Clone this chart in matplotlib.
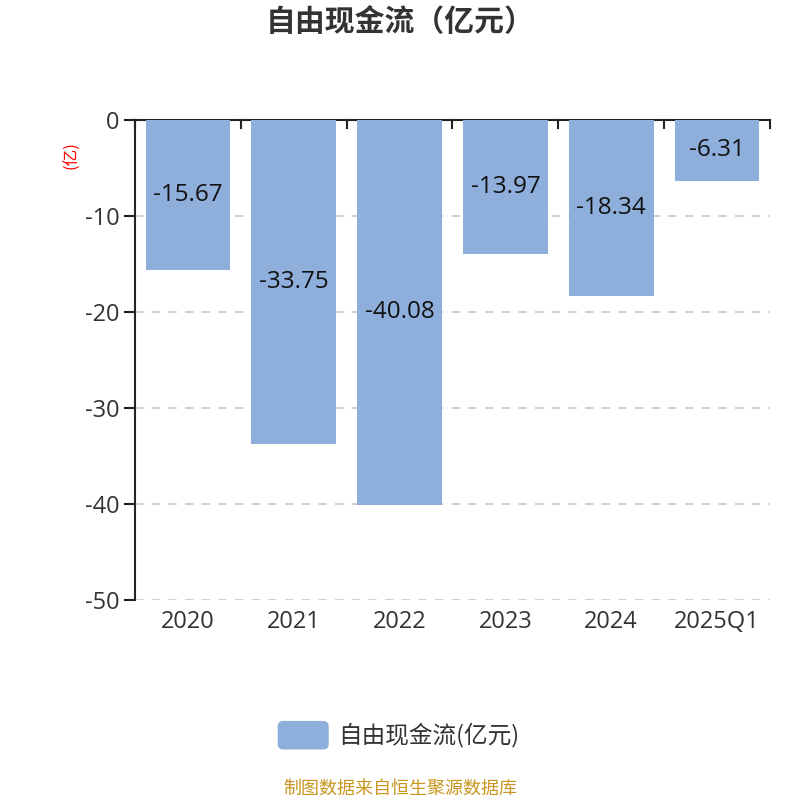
import matplotlib
matplotlib.use("Agg")
import matplotlib.pyplot as plt
from matplotlib.patches import FancyBboxPatch
import numpy as np

plt.rcParams['font.family'] = ['Open Sans', 'Noto Sans CJK SC', 'DejaVu Sans']
cjk = ['Noto Sans CJK SC', 'DejaVu Sans']

categories = ['2020', '2021', '2022', '2023', '2024', '2025Q1']
values = [-15.67, -33.75, -40.08, -13.97, -18.34, -6.31]
yticks = [0, -10, -20, -30, -40, -50]

bar_color = '#8eaedb'
text_color = '#333333'

fig = plt.figure(figsize=(8, 8), dpi=100)
ax = fig.add_axes([0.16875, 0.25, 0.79375, 0.60])

x = np.arange(len(categories))
ax.bar(x, values, width=0.8, color=bar_color, zorder=3)
for xi, v in zip(x, values):
    ax.text(xi, v / 2, f'{v:.2f}', ha='center', va='center',
            fontsize=17.5, color='#111111', zorder=4)

ax.set_xlim(-0.5, len(categories) - 0.5)
ax.set_ylim(-50, 0)
ax.set_yticks(yticks)
ax.set_yticklabels([str(t) for t in yticks], fontsize=17, color=text_color)
for t in yticks[1:]:
    ax.axhline(t, color='#c8c8c8', linestyle=(0, (5, 5)), linewidth=1.2, zorder=1)

# x axis line at top (y=0), ticks at category boundaries pointing down
ax.spines['right'].set_visible(False)
ax.spines['bottom'].set_visible(False)
ax.spines['top'].set_color('#222222')
ax.spines['left'].set_color('#222222')
ax.spines['top'].set_linewidth(1.5)
ax.spines['left'].set_linewidth(1.5)
ax.tick_params(axis='y', length=8, width=1.5, color='#222222', pad=3)

ax.set_xticks(x)
ax.set_xticklabels(categories, fontsize=17, color=text_color)
ax.tick_params(axis='x', length=0, pad=7)
for b in np.arange(-0.5, len(categories), 1.0):
    ax.plot([b, b], [0, -0.85], color='#222222', linewidth=1.5,
            clip_on=False, zorder=5)

fig.text(0.09, 0.806, '(亿)', rotation=90, color='red', fontsize=12,
         ha='center', va='center', family=cjk)

fig.text(0.5, 0.972, '自由现金流（亿元）', ha='center', va='center',
         fontsize=21.5, fontweight='bold', color=text_color, family=cjk)

# legend
patch = FancyBboxPatch((0.348, 0.064), 0.062, 0.034,
                       boxstyle='round,pad=0,rounding_size=0.006',
                       transform=fig.transFigure, color=bar_color)
fig.patches.append(patch)
fig.text(0.423, 0.081, '自由现金流(亿元)', ha='left', va='center',
         fontsize=17, color=text_color, family=cjk)

fig.text(0.5, 0.014, '制图数据来自恒生聚源数据库', ha='center', va='center',
         fontsize=13, color='#c8961e', family=cjk)

fig.savefig('out.png', dpi=100)
